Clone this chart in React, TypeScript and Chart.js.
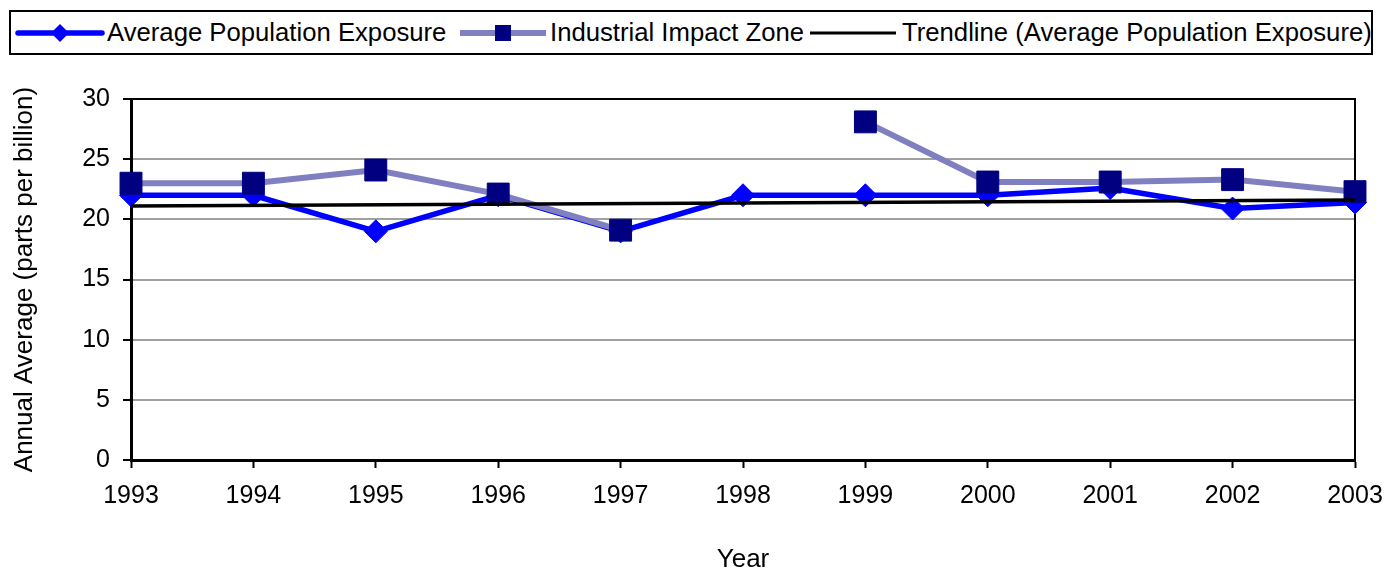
import { useEffect, useRef } from 'react';
import { Chart, registerables } from 'chart.js';

Chart.register(...registerables);

const years = ['1993', '1994', '1995', '1996', '1997', '1998', '1999', '2000', '2001', '2002', '2003'];
const averagePopulationExposure = [22, 22, 19, 22, 19, 22, 22, 22, 22.6, 20.9, 21.4];
const industrialImpactZone = [23, 23, 24.1, 22.1, 19.1, null, 28.1, 23.1, 23.1, 23.3, 22.3];
const trendlineAverage = [21.1, null, null, null, null, null, null, null, null, null, 21.6];
const legendLabels = ['Average Population Exposure', 'Industrial Impact Zone', 'Trendline (Average Population Exposure)'];
const yTitle = 'Annual Average (parts per billion)';
const xTitle = 'Year';

const FONT = '"Liberation Sans", Arial, Helvetica, sans-serif';

const framePlugin = {
  id: 'frame',
  beforeDatasetsDraw(chart: any) {
    const { ctx, chartArea } = chart;
    ctx.save();
    ctx.strokeStyle = '#000';
    ctx.lineWidth = 2;
    ctx.beginPath();
    ctx.moveTo(chartArea.left, chartArea.top);
    ctx.lineTo(chartArea.right, chartArea.top);
    ctx.lineTo(chartArea.right, chartArea.bottom);
    ctx.stroke();
    ctx.restore();
  },
};

export default function App() {
  const ref = useRef<HTMLCanvasElement>(null);

  useEffect(() => {
    const chart = new Chart(ref.current as HTMLCanvasElement, {
      type: 'line',
      data: {
        labels: years,
        datasets: [
          {
            label: legendLabels[2],
            data: trendlineAverage,
            borderColor: '#000000',
            borderWidth: 3.5,
            pointRadius: 0,
            spanGaps: true,
            order: 0,
          },
          {
            label: legendLabels[1],
            data: industrialImpactZone,
            borderColor: '#8080C0',
            borderWidth: 6,
            pointStyle: 'rect',
            pointRadius: 15.5,
            pointBackgroundColor: '#000080',
            pointBorderColor: '#000080',
            pointBorderWidth: 1,
            spanGaps: false,
            order: 1,
          },
          {
            label: legendLabels[0],
            data: averagePopulationExposure,
            borderColor: '#0000FF',
            borderWidth: 5.5,
            pointStyle: 'rectRot',
            pointRadius: 11.5,
            pointBackgroundColor: '#0000FF',
            pointBorderColor: '#0000FF',
            pointBorderWidth: 1,
            order: 2,
          },
        ],
      },
      options: {
        animation: false,
        responsive: false,
        maintainAspectRatio: false,
        events: [],
        layout: { padding: { top: 99, right: 30, left: 0, bottom: 0 } },
        plugins: {
          legend: { display: false },
          tooltip: { enabled: false },
        },
        scales: {
          x: {
            offset: false,
            grid: { drawOnChartArea: false, drawTicks: true, tickLength: 8, tickColor: '#000', tickWidth: 2 },
            border: { color: '#000', width: 3 },
            ticks: { color: '#000', font: { family: FONT, size: 25 }, padding: 13, maxRotation: 0, autoSkip: false },
            title: { display: true, text: xTitle, color: '#000', font: { family: FONT, size: 26 }, padding: { top: 0, bottom: -6 } },
            afterFit: (s: any) => {
              s.height = 109;
              s.paddingRight = 0;
              s.paddingLeft = 0;
            },
          },
          y: {
            min: 0,
            max: 30,
            ticks: { stepSize: 5, color: '#000', font: { family: FONT, size: 25 }, padding: 13 },
            grid: { color: '#a0a0a0', lineWidth: 2, tickLength: 8, tickColor: '#000', tickWidth: 2 },
            border: { color: '#000', width: 3 },
            title: { display: true, text: yTitle, color: '#000', font: { family: FONT, size: 26 }, padding: { top: 9, bottom: 0 } },
            afterFit: (s: any) => {
              s.width = 131;
              s.paddingTop = 0;
              s.paddingBottom = 0;
            },
          },
        },
      },
      plugins: [framePlugin],
    });
    return () => chart.destroy();
  }, []);

  const itemStyle = (left: number): any => ({
    position: 'absolute',
    left,
    top: 10,
    height: 45,
    display: 'flex',
    alignItems: 'center',
    fontFamily: FONT,
    fontSize: 25.7,
    color: '#000',
    whiteSpace: 'nowrap',
  });

  return (
    <div style={{ position: 'fixed', left: 0, top: 0, width: 1385, height: 569, background: '#fff' }}>
      <canvas ref={ref} width={1385} height={569} style={{ position: 'absolute', left: 0, top: 0, width: 1385, height: 569 }} />
      <div
        style={{
          position: 'absolute',
          left: 9,
          top: 10,
          width: 1364,
          height: 45,
          boxSizing: 'border-box',
          border: '2px solid #000',
          background: '#fff',
        }}
      />
      <div style={itemStyle(15)}>
        <svg width={90} height={24}>
          <line x1={3} y1={12} x2={87} y2={12} stroke="#0000FF" strokeWidth={5.5} strokeLinecap="round" />
          <polygon points="36,12 45,3 54,12 45,21" fill="#0000FF" />
        </svg>
        <span style={{ marginLeft: 2 }}>{legendLabels[0]}</span>
      </div>
      <div style={itemStyle(458)}>
        <svg width={90} height={24}>
          <line x1={2} y1={12} x2={88} y2={12} stroke="#8080C0" strokeWidth={6} />
          <rect x={37} y={4} width={16} height={16} fill="#000080" />
        </svg>
        <span style={{ marginLeft: 2 }}>{legendLabels[1]}</span>
      </div>
      <div style={itemStyle(808)}>
        <svg width={90} height={24}>
          <line x1={2} y1={12} x2={88} y2={12} stroke="#000000" strokeWidth={3} />
        </svg>
        <span style={{ marginLeft: 4 }}>{legendLabels[2]}</span>
      </div>
    </div>
  );
}
